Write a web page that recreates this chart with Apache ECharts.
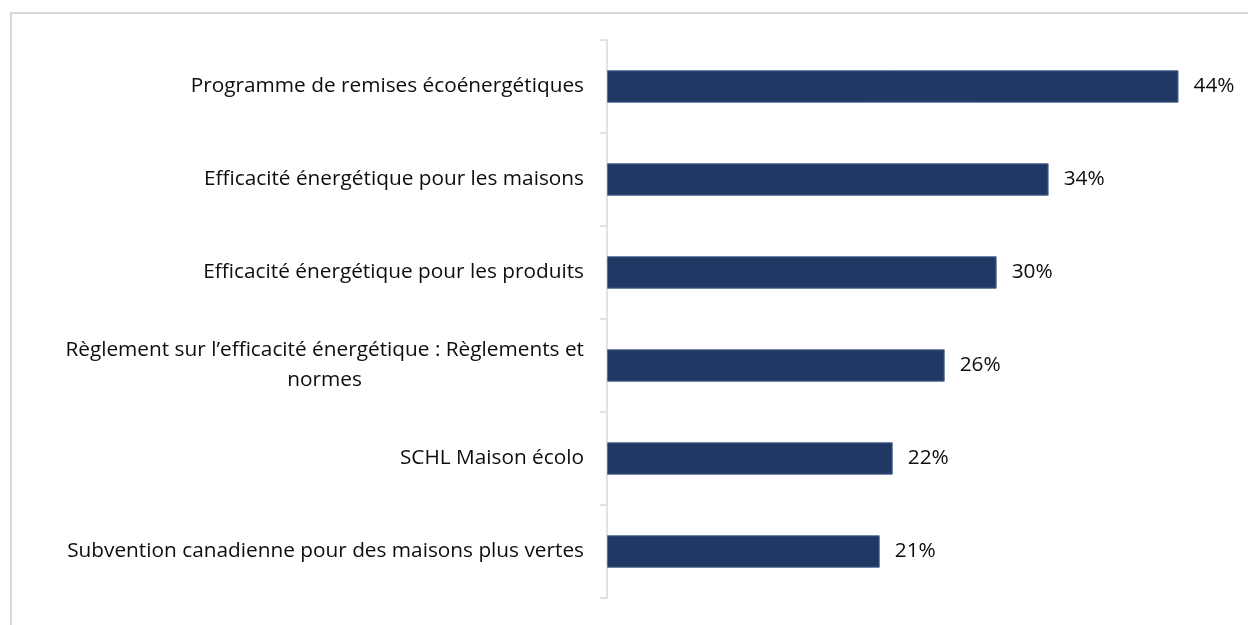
<!DOCTYPE html>
<html>
<head>
<meta charset="utf-8">
<script src="https://cdn.jsdelivr.net/npm/echarts@6/dist/echarts.min.js"></script>
<style>
  html, body { margin: 0; padding: 0; background: #fff; }
  #chart { width: 1248px; height: 625px; }
</style>
</head>
<body>
<div id="chart"></div>
<script>
// categories, top to bottom
const categories = [
  "Programme de remises écoénergétiques",
  "Efficacité énergétique pour les maisons",
  "Efficacité énergétique pour les produits",
  "Règlement sur l’efficacité énergétique : Règlements et\nnormes",
  "SCHL Maison écolo",
  "Subvention canadienne pour des maisons plus vertes"
];
const values = [44, 34, 30, 26, 22, 21];

const fontSize = 20.8;

// width of a text line, used to centre the wrapped second line under the first
function textWidth(s) {
  const ctx = document.createElement("canvas").getContext("2d");
  ctx.font = fontSize + 'px "Open Sans"';
  return Math.ceil(ctx.measureText(s).width);
}

const chart = echarts.init(document.getElementById("chart"));

chart.setOption({
  animation: false,
  grid: { left: 607, right: 24, top: 40, bottom: 27 },
  graphic: [{
    type: "rect",
    shape: { x: 11, y: 13, width: 1400, height: 800 },
    style: { fill: "none", stroke: "#d9d9d9", lineWidth: 2 },
    silent: true
  }],
  xAxis: {
    type: "value",
    min: 0,
    max: 47.5,
    show: false
  },
  yAxis: {
    type: "category",
    inverse: true,
    data: categories,
    axisLine: { lineStyle: { color: "#d9d9d9", width: 1.5 } },
    axisTick: { show: true, length: 7, lineStyle: { color: "#d9d9d9", width: 1.5 } },
    axisLabel: {
      margin: 23,
      color: "#0d0d0d",
      fontFamily: "Open Sans",
      fontSize: fontSize,
      formatter: function (v) {
        const parts = v.split("\n");
        if (parts.length === 1) return v;
        return "{a|" + parts[0] + "}\n{b|" + parts[1] + "}";
      },
      rich: {
        a: { fontFamily: "Open Sans", fontSize: fontSize, lineHeight: 30, color: "#0d0d0d" },
        b: {
          fontFamily: "Open Sans", fontSize: fontSize, lineHeight: 30, color: "#0d0d0d",
          width: textWidth("Règlement sur l’efficacité énergétique : Règlements et"),
          align: "center"
        }
      }
    }
  },
  series: [{
    type: "bar",
    data: values,
    barWidth: "35%",
    itemStyle: { color: "#203864", borderColor: "#5b7199", borderWidth: 1 },
    label: {
      show: true,
      position: "right",
      distance: 15,
      formatter: "{c}%",
      color: "#0d0d0d",
      fontFamily: "Open Sans",
      fontSize: fontSize
    }
  }]
});
</script>
</body>
</html>
